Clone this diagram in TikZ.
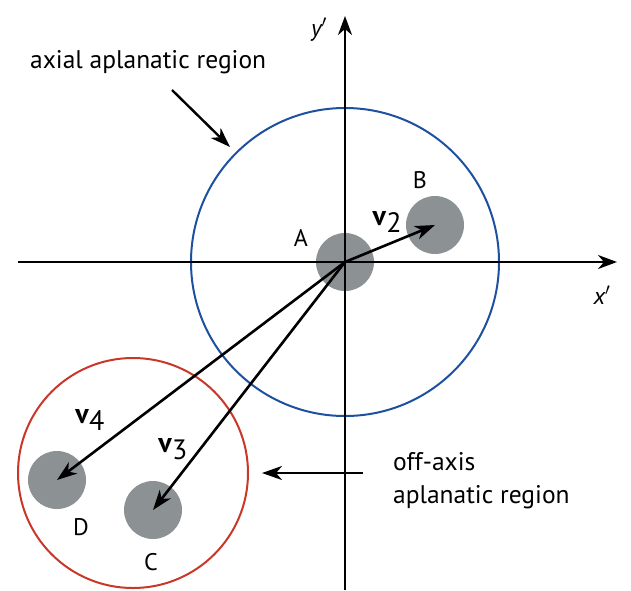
\documentclass[tikz,border=0pt]{standalone}
\usepackage{fontspec}
\setmainfont{PT Sans}
\usetikzlibrary{arrows.meta}
\definecolor{bluec}{RGB}{30,80,160}
\definecolor{redc}{RGB}{200,55,40}
\definecolor{diskc}{RGB}{140,145,148}
\newcommand{\vsub}[1]{\textbf{v}\raisebox{-7pt}{#1}}
\tikzset{
  disk/.style={circle,fill=diskc,minimum size=58pt,inner sep=0pt},
  vec/.style={line width=2.6pt,-{Stealth[length=20pt,width=14pt,inset=6pt]}},
  axis/.style={line width=2pt,-{Stealth[length=19pt,width=14pt,inset=6pt]}},
  lbl/.style={font=\fontsize{24}{26}\selectfont,inner sep=0pt},
  vlbl/.style={font=\fontsize{28}{30}\selectfont,inner sep=0pt},
  txt/.style={font=\fontsize{25.5}{33}\selectfont,inner sep=0pt,align=left}
}
\begin{document}
\begin{tikzpicture}[x=1pt,y=-1pt]
\useasboundingbox (0,0) rectangle (631,590);
% regions
\draw[bluec,line width=2pt] (345,262) circle (154);
\draw[redc,line width=2pt] (133,473) circle (115);
% disks
\node[disk] (A) at (345,262) {};
\node[disk] (B) at (435,225) {};
\node[disk] (C) at (153,510) {};
\node[disk] (D) at (57,480) {};
% axes
\coordinate (xl) at (18,262);
\coordinate (xr) at (617,262);
\coordinate (yb) at (345,590);
\coordinate (yt) at (345,16);
\draw[axis] (xl) -- (xr);
\draw[axis] (yb) -- (yt);
% vectors
\draw[vec] (A.center) -- (B.center);
\draw[vec] (A.center) -- (C.center);
\draw[vec] (A.center) -- (D.center);
% labels
\node[lbl] (la) at (301,238) {A};
\node[lbl] (lb) at (420,180) {B};
\node[lbl] (lc) at (151,562) {C};
\node[lbl] (ld) at (81,527) {D};
\node[vlbl] (v2) at (387,222) {\vsub{2}};
\node[vlbl] (v3) at (173,449) {\vsub{3}};
\node[vlbl] (v4) at (90,420) {\vsub{4}};
\node[lbl] (xp) at (602,295) {\itshape x$'$};
\node[lbl] (yp) at (319,30) {\itshape y$'$};
% annotations
\node[txt,anchor=west] (t1) at (30,62) {axial aplanatic region};
\node[txt,anchor=north west] (t2) at (393,452) {off-axis\\aplanatic region};
\coordinate (a1s) at (172,90);
\coordinate (a1e) at (230,147);
\draw[vec,line width=2.4pt] (a1s) -- (a1e);
\coordinate (a2s) at (363,473);
\coordinate (a2e) at (262,473);
\draw[vec,line width=2.4pt] (a2s) -- (a2e);
\end{tikzpicture}
\end{document}
